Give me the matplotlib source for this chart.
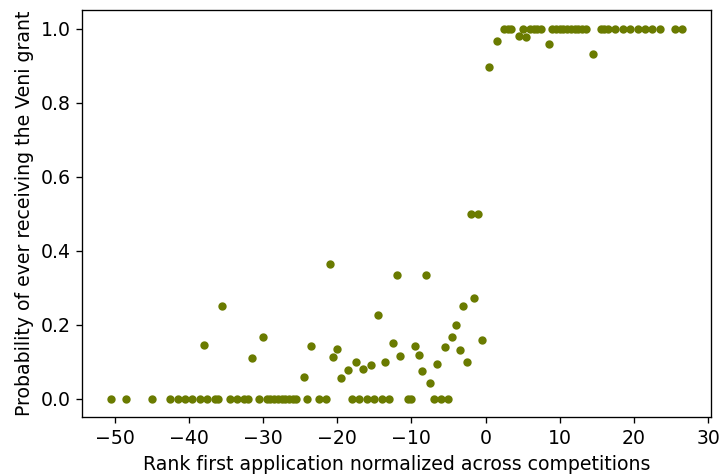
import numpy as np
import matplotlib
matplotlib.use('Agg')
import matplotlib.pyplot as plt

plt.rcParams['font.size'] = 11.3

# Normalized rank of first application (x) vs probability of ever getting the grant (y)
rank_zero = [-50.5, -48.5, -45, -42.5, -41.5, -40.5, -39.5, -38.5, -37.5, -36.5, -36,
             -34.5, -33.5, -32.5, -32, -30.5, -29.5, -29, -28.5, -28, -27.5, -27, -26.5,
             -26, -25.5, -24, -22.5, -21.5, -18, -17, -16, -15, -14, -13, -10.5, -10,
             -7, -6, -5]
prob_zero = [0.0] * len(rank_zero)

rank_mid = [-38, -35.5, -31.5, -30, -24.5, -23.5, -21, -20.5, -20, -19.5, -18.5, -17.5,
            -16.5, -15.5, -14.5, -13.5, -12.5, -12, -11.5, -9.5, -9, -8.5, -8, -7.5,
            -6.5, -5.5, -4.5, -4, -3.5, -3, -2.5, -2, -1.5, -1, -0.5]
prob_mid = [0.144, 0.251, 0.111, 0.168, 0.059, 0.143, 0.364, 0.112, 0.134, 0.057, 0.078,
            0.100, 0.080, 0.091, 0.227, 0.100, 0.151, 0.334, 0.115, 0.143, 0.117, 0.076,
            0.334, 0.042, 0.094, 0.139, 0.167, 0.200, 0.131, 0.250, 0.100, 0.500, 0.272,
            0.500, 0.158]

rank_high = [0.5, 1.5, 4.5, 5.5, 8.5, 14.5]
prob_high = [0.895, 0.966, 0.981, 0.977, 0.958, 0.930]

rank_one = [2.5, 3, 3.5, 5, 6, 6.5, 7, 7.5, 9, 9.5, 10, 10.5, 11, 11.5, 12, 12.5, 13, 13.5,
            15.5, 16, 16.5, 17.5, 18.5, 19.5, 20.5, 21.5, 22.5, 23.5, 25.5, 26.5]
prob_one = [1.0] * len(rank_one)

x = np.concatenate([rank_zero, rank_mid, rank_high, rank_one])
y = np.concatenate([prob_zero, prob_mid, prob_high, prob_one])

fig = plt.figure(figsize=(721/120, 476/120), dpi=120)
ax = fig.add_axes([82.3/721, 1-417.3/476, (710.7-82.3)/721, (417.3-10)/476])
ax.plot(x, y, 'o', color='#6a7b00', markersize=4)
ax.set_xlabel('Rank first application normalized across competitions')
ax.set_ylabel('Probability of ever receiving the Veni grant')
fig.savefig('out.png', dpi=120)
